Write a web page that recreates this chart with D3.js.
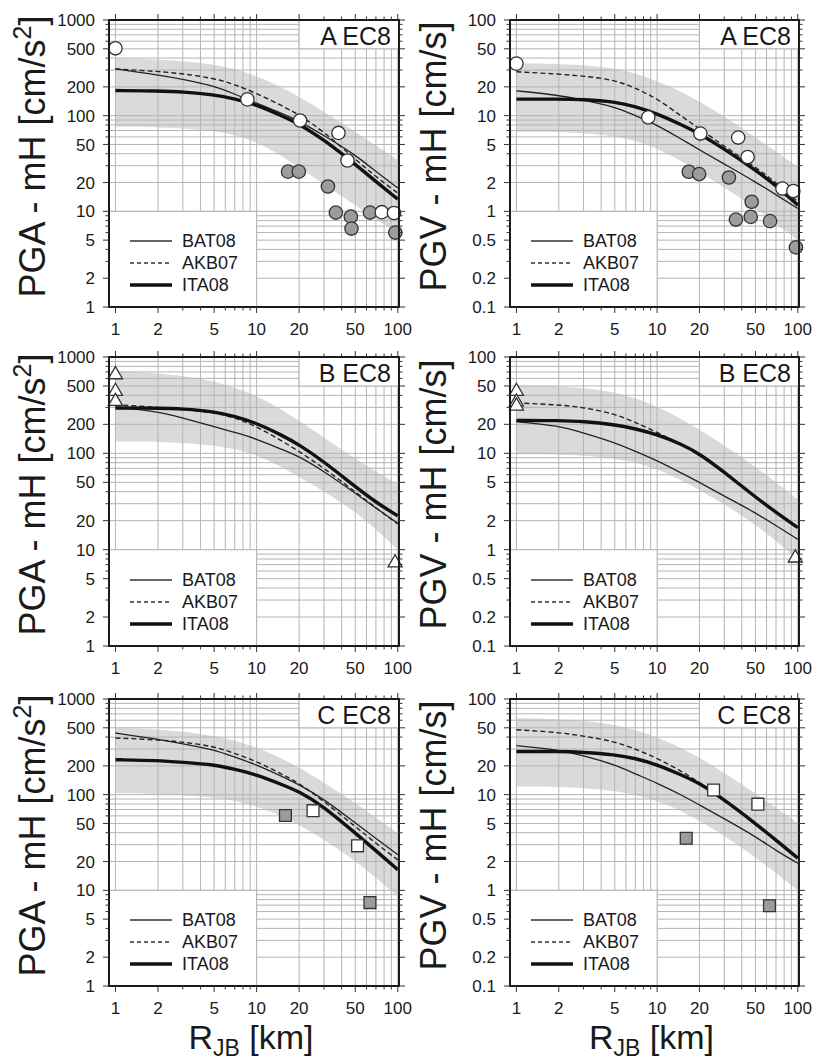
<!DOCTYPE html>
<html>
<head>
<meta charset="utf-8">
<script src="https://cdn.jsdelivr.net/npm/d3@7"></script>
<style>
  body { margin: 0; background: #fff; }
  svg { display: block; }
  text { font-family: "Liberation Sans", Arial, Helvetica, sans-serif; fill: #1a1a1a; }
</style>
</head>
<body>
<svg id="chart" width="819" height="1062"></svg>
<script>
const rCurve = [1, 2, 3, 5, 7, 10, 15, 20, 30, 50, 70, 100];
// distances for the shaded band edges
const rBand = [1, 2, 5, 10, 20, 50, 100];

// ---- A EC8 ----
const pgaA_BAT08 = [308, 267, 240, 205, 168, 135, 106, 88, 62, 39, 26, 17.5];
const pgaA_AKB07 = [308, 290, 275, 246, 212, 171, 128, 102, 68, 35, 23, 15.5];
const pgaA_ITA08 = [183, 181, 178, 166, 150, 130, 100, 82, 56, 31, 20.5, 13.4];
const pgaA_bandHi = [398, 390, 352, 267, 162, 68, 34.5];
const pgaA_bandLo = [77, 76, 71, 56, 29, 11.5, 5.9];
const pgaA_openR = [1, 8.6, 20.3, 38, 44, 77, 94];
const pgaA_openV = [506, 148, 89, 66, 34, 9.8, 9.6];
const pgaA_fillR = [16.7, 19.9, 32, 36.4, 46.5, 47, 63.5, 96];
const pgaA_fillV = [26, 26, 18.2, 9.7, 8.8, 6.6, 9.7, 6.0];

const pgvA_BAT08 = [18.2, 16.4, 14.5, 12.4, 10.0, 8.0, 5.64, 4.4, 3.12, 2.03, 1.49, 1.07];
const pgvA_AKB07 = [28.8, 27.2, 26, 23.6, 19.5, 15.1, 9.8, 7.3, 4.8, 2.9, 2.0, 1.26];
const pgvA_ITA08 = [14.9, 14.9, 14.8, 14.0, 12.5, 10.5, 8.0, 6.5, 4.5, 2.7, 1.87, 1.16];
const pgvA_bandHi = [35, 35, 32.5, 23.6, 14.5, 6.0, 2.9];
const pgvA_bandLo = [6.8, 6.8, 6.3, 4.7, 2.6, 1.1, 0.5];
const pgvA_openR = [1, 8.65, 20.3, 37.7, 44, 77.8, 93];
const pgvA_openV = [35, 9.6, 6.5, 5.9, 3.7, 1.73, 1.63];
const pgvA_fillR = [16.8, 19.9, 32.4, 36.3, 47, 46.3, 63.5, 97];
const pgvA_fillV = [2.59, 2.45, 2.26, 0.82, 1.26, 0.875, 0.79, 0.42];

// ---- B EC8 ----
const pgaB_BAT08 = [302, 272, 233, 190, 165, 141, 110, 93, 65, 38.6, 27, 18.8];
const pgaB_AKB07 = [320, 300, 285, 266, 235, 190, 135, 105, 70, 40, 27, 18.5];
const pgaB_ITA08 = [295, 295, 290, 272, 242, 206, 155, 123, 82, 45, 31, 22.4];
const pgaB_bandHi = [710, 683, 580, 406, 223, 86, 48];
const pgaB_bandLo = [133, 133, 123, 100, 57.5, 26, 10];
const pgaB_openR = [1, 1, 1, 95.7];
const pgaB_openV = [655, 440, 346, 7.3];

const pgvB_BAT08 = [21.3, 19.4, 16.3, 13, 10.5, 8.4, 6.2, 5.0, 3.6, 2.42, 1.78, 1.28];
const pgvB_AKB07 = [33.4, 31.9, 30, 25.7, 21, 16.5, 12.3, 9.8, 6.3, 3.47, 2.45, 1.72];
const pgvB_ITA08 = [21.9, 21.9, 21.5, 19.9, 18.0, 15.7, 12.4, 9.9, 6.4, 3.5, 2.45, 1.69];
const pgvB_bandHi = [50.7, 50, 45, 31.3, 17.9, 7.4, 3.3];
const pgvB_bandLo = [9.8, 9.8, 9.1, 7.1, 4.2, 1.9, 0.79];
const pgvB_openR = [1, 1, 1, 96];
const pgvB_openV = [44, 34, 31, 0.82];

// ---- C EC8 ----
const pgaC_BAT08 = [441, 381, 340, 295, 246, 206, 156, 127, 90, 50.5, 35, 23.5];
const pgaC_AKB07 = [391, 375, 355, 320, 270, 223, 165, 132, 85, 46.5, 31, 20.8];
const pgaC_ITA08 = [232, 228, 218, 206, 184, 162, 128, 108, 75, 39.6, 26, 16.4];
const pgaC_bandHi = [497, 486, 424, 320, 198, 82, 39.6];
const pgaC_bandLo = [104, 102, 96, 78, 50, 21, 8.6];
const pgaC_openR = [25.1, 51.9];
const pgaC_openV = [68, 29.2];
const pgaC_fillR = [16, 63.5];
const pgaC_fillV = [60.6, 7.45];

const pgvC_BAT08 = [32.5, 29.5, 25.5, 20.6, 16.5, 13.2, 9.9, 7.8, 5.6, 3.66, 2.6, 1.92];
const pgvC_AKB07 = [47.7, 44.8, 41, 36, 30, 24.1, 17.5, 13.4, 8.9, 5.0, 3.35, 2.2];
const pgvC_ITA08 = [28.3, 28.3, 27.8, 26.2, 24, 20.6, 16, 13.2, 8.85, 5.0, 3.35, 2.17];
const pgvC_bandHi = [63, 61.7, 56, 40.6, 25, 10.4, 5.05];
const pgvC_bandLo = [12.2, 12.2, 11.2, 8.9, 5.5, 2.26, 1.0];
const pgvC_openR = [25.2, 52];
const pgvC_openV = [11.2, 7.96];
const pgvC_fillR = [16.1, 62.9];
const pgvC_fillV = [3.5, 0.69];

// tick labels
const rTicks = [1, 2, 5, 10, 20, 50, 100];
const pgaTicks = [1, 2, 5, 10, 20, 50, 100, 200, 500, 1000];
const pgvTicks = [0.1, 0.2, 0.5, 1, 2, 5, 10, 20, 50, 100];
const legendNames = ['BAT08', 'AKB07', 'ITA08'];

// layout
const cols = [{ left: 109, right: 399 }, { left: 510, right: 799 }];
const rows = [{ top: 20, bottom: 307 }, { top: 357, bottom: 646 }, { top: 699, bottom: 986 }];

const pair = (xs, ys) => xs.map((v, i) => [v, ys[i]]);

const panels = [
  { row: 0, col: 0, cls: 'A', kind: 'pga', bat: pgaA_BAT08, akb: pgaA_AKB07, ita: pgaA_ITA08, hi: pgaA_bandHi, lo: pgaA_bandLo,
    marker: 'circle', open: pair(pgaA_openR, pgaA_openV), filled: pair(pgaA_fillR, pgaA_fillV) },
  { row: 0, col: 1, cls: 'A', kind: 'pgv', bat: pgvA_BAT08, akb: pgvA_AKB07, ita: pgvA_ITA08, hi: pgvA_bandHi, lo: pgvA_bandLo,
    marker: 'circle', open: pair(pgvA_openR, pgvA_openV), filled: pair(pgvA_fillR, pgvA_fillV) },
  { row: 1, col: 0, cls: 'B', kind: 'pga', bat: pgaB_BAT08, akb: pgaB_AKB07, ita: pgaB_ITA08, hi: pgaB_bandHi, lo: pgaB_bandLo,
    marker: 'triangle', open: pair(pgaB_openR, pgaB_openV), filled: [] },
  { row: 1, col: 1, cls: 'B', kind: 'pgv', bat: pgvB_BAT08, akb: pgvB_AKB07, ita: pgvB_ITA08, hi: pgvB_bandHi, lo: pgvB_bandLo,
    marker: 'triangle', open: pair(pgvB_openR, pgvB_openV), filled: [] },
  { row: 2, col: 0, cls: 'C', kind: 'pga', bat: pgaC_BAT08, akb: pgaC_AKB07, ita: pgaC_ITA08, hi: pgaC_bandHi, lo: pgaC_bandLo,
    marker: 'square', open: pair(pgaC_openR, pgaC_openV), filled: pair(pgaC_fillR, pgaC_fillV) },
  { row: 2, col: 1, cls: 'C', kind: 'pgv', bat: pgvC_BAT08, akb: pgvC_AKB07, ita: pgvC_ITA08, hi: pgvC_bandHi, lo: pgvC_bandLo,
    marker: 'square', open: pair(pgvC_openR, pgvC_openV), filled: pair(pgvC_fillR, pgvC_fillV) }
];

const GRID = '#b4b4b4';
const svg = d3.select('#chart');

panels.forEach((p, idx) => {
  const { left, right } = cols[p.col];
  const { top, bottom } = rows[p.row];
  const isPga = p.kind === 'pga';

  const x = d3.scaleLog().domain([0.9, 102]).range([left, right]);
  const y = d3.scaleLog().domain(isPga ? [1, 1000] : [0.1, 100]).range([bottom, top]);

  const g = svg.append('g');
  const clipId = 'clip' + idx;
  g.append('clipPath').attr('id', clipId)
    .append('rect').attr('x', left).attr('y', top).attr('width', right - left).attr('height', bottom - top);
  const inner = g.append('g').attr('clip-path', `url(#${clipId})`);

  // shaded band
  const area = d3.area()
    .x((d, i) => x(rBand[i]))
    .y0((d, i) => y(p.lo[i]))
    .y1((d, i) => y(p.hi[i]))
    .curve(d3.curveBasis);
  inner.append('path').datum(p.hi).attr('d', area).attr('fill', '#dadada');

  // grid (every 1..9 per decade)
  const xGrid = x.ticks().filter(v => v >= 1 && v <= 100);
  const yGrid = y.ticks();
  inner.selectAll('.gx').data(xGrid).enter().append('line')
    .attr('x1', d => x(d)).attr('x2', d => x(d)).attr('y1', top).attr('y2', bottom)
    .attr('stroke', GRID).attr('stroke-width', 1);
  inner.selectAll('.gy').data(yGrid).enter().append('line')
    .attr('x1', left).attr('x2', right).attr('y1', d => y(d)).attr('y2', d => y(d))
    .attr('stroke', GRID).attr('stroke-width', 1);

  // label box and legend box
  const boxBottom = isPga ? 500 : 50;
  inner.append('rect')
    .attr('x', x(20)).attr('y', top - 2)
    .attr('width', right - x(20) + 2).attr('height', y(boxBottom) - top + 2)
    .attr('fill', '#fff').attr('stroke', GRID);
  const legTop = isPga ? 10 : 1;
  inner.append('rect')
    .attr('x', left - 2).attr('y', y(legTop))
    .attr('width', x(10) - left + 2).attr('height', bottom - y(legTop) + 2)
    .attr('fill', '#fff').attr('stroke', GRID);

  // model curves
  const line = d3.line()
    .x((d, i) => x(rCurve[i]))
    .y(d => y(d))
    .curve(d3.curveBasis);
  inner.append('path').datum(p.bat).attr('d', line)
    .attr('fill', 'none').attr('stroke', '#222').attr('stroke-width', 1.3);
  inner.append('path').datum(p.akb).attr('d', line)
    .attr('fill', 'none').attr('stroke', '#222').attr('stroke-width', 1.4).attr('stroke-dasharray', '5,3');
  inner.append('path').datum(p.ita).attr('d', line)
    .attr('fill', 'none').attr('stroke', '#111').attr('stroke-width', 3.4);

  // observations
  const symType = p.marker === 'circle' ? d3.symbolCircle : p.marker === 'square' ? d3.symbolSquare : d3.symbolTriangle;
  const symSize = p.marker === 'triangle' ? 85 : 140;
  const sym = d3.symbol().type(symType).size(symSize);
  const drawPts = (data, fill) => {
    g.selectAll(null).data(data).enter().append('path')
      .attr('d', sym)
      .attr('transform', d => `translate(${x(d[0])},${y(d[1])})`)
      .attr('fill', fill).attr('stroke', '#333').attr('stroke-width', 1.3);
  };
  drawPts(p.filled, '#9c9c9c');
  drawPts(p.open, '#fff');

  // frame
  g.append('rect').attr('x', left).attr('y', top).attr('width', right - left).attr('height', bottom - top)
    .attr('fill', 'none').attr('stroke', '#1a1a1a').attr('stroke-width', 2);

  // ticks on all four sides (outside)
  const yLab = isPga ? pgaTicks : pgvTicks;
  const tickLen = (v, labels) => labels.some(t => Math.abs(t - v) / v < 1e-6) ? 6 : 3.5;
  xGrid.forEach(v => {
    const L = tickLen(v, rTicks);
    g.append('line').attr('x1', x(v)).attr('x2', x(v)).attr('y1', bottom).attr('y2', bottom + L).attr('stroke', '#333');
    g.append('line').attr('x1', x(v)).attr('x2', x(v)).attr('y1', top).attr('y2', top - L).attr('stroke', '#333');
  });
  yGrid.forEach(v => {
    const L = tickLen(v, yLab);
    g.append('line').attr('y1', y(v)).attr('y2', y(v)).attr('x1', left).attr('x2', left - L).attr('stroke', '#333');
    g.append('line').attr('y1', y(v)).attr('y2', y(v)).attr('x1', right).attr('x2', right + L).attr('stroke', '#333');
  });

  // tick labels
  g.selectAll(null).data(rTicks).enter().append('text')
    .attr('x', d => x(d)).attr('y', bottom + 28)
    .attr('text-anchor', 'middle').attr('font-size', 17)
    .text(d => d);
  g.selectAll(null).data(yLab).enter().append('text')
    .attr('x', left - 14).attr('y', d => y(d)).attr('dy', '0.36em')
    .attr('text-anchor', 'end').attr('font-size', 17)
    .text(d => d);

  // panel label
  g.append('text').attr('x', right - 8).attr('y', top + 25)
    .attr('text-anchor', 'end').attr('font-size', 25)
    .text(p.cls + ' EC8');

  // legend
  legendNames.forEach((name, i) => {
    const ly = bottom - 66 + i * 22;
    g.append('line').attr('x1', left + 21).attr('x2', left + 63).attr('y1', ly).attr('y2', ly)
      .attr('stroke', i === 2 ? '#111' : '#333')
      .attr('stroke-width', i === 2 ? 3.4 : 1.3)
      .attr('stroke-dasharray', i === 1 ? '4,3' : null);
    g.append('text').attr('x', left + 73).attr('y', ly).attr('dy', '0.36em')
      .attr('font-size', 18).text(name);
  });

  // y-axis title
  const yt = g.append('text')
    .attr('transform', `translate(${left - 64},${(top + bottom) / 2 - 7}) rotate(-90)`)
    .attr('text-anchor', 'middle').attr('font-size', 36);
  if (isPga) {
    yt.append('tspan').text('PGA - mH [cm/s');
    yt.append('tspan').attr('dy', -14).attr('font-size', 25).text('2');
    yt.append('tspan').attr('dy', 14).text(']');
  } else {
    yt.text('PGV - mH [cm/s]');
  }

  // x-axis title on the bottom row
  if (p.row === 2) {
    const xt = g.append('text')
      .attr('x', (left + right) / 2 - 3).attr('y', bottom + 63)
      .attr('text-anchor', 'middle').attr('font-size', 34);
    xt.append('tspan').text('R');
    xt.append('tspan').attr('dy', 7).attr('font-size', 23).text('JB');
    xt.append('tspan').attr('dy', -7).text(' [km]');
  }
});
</script>
</body>
</html>
